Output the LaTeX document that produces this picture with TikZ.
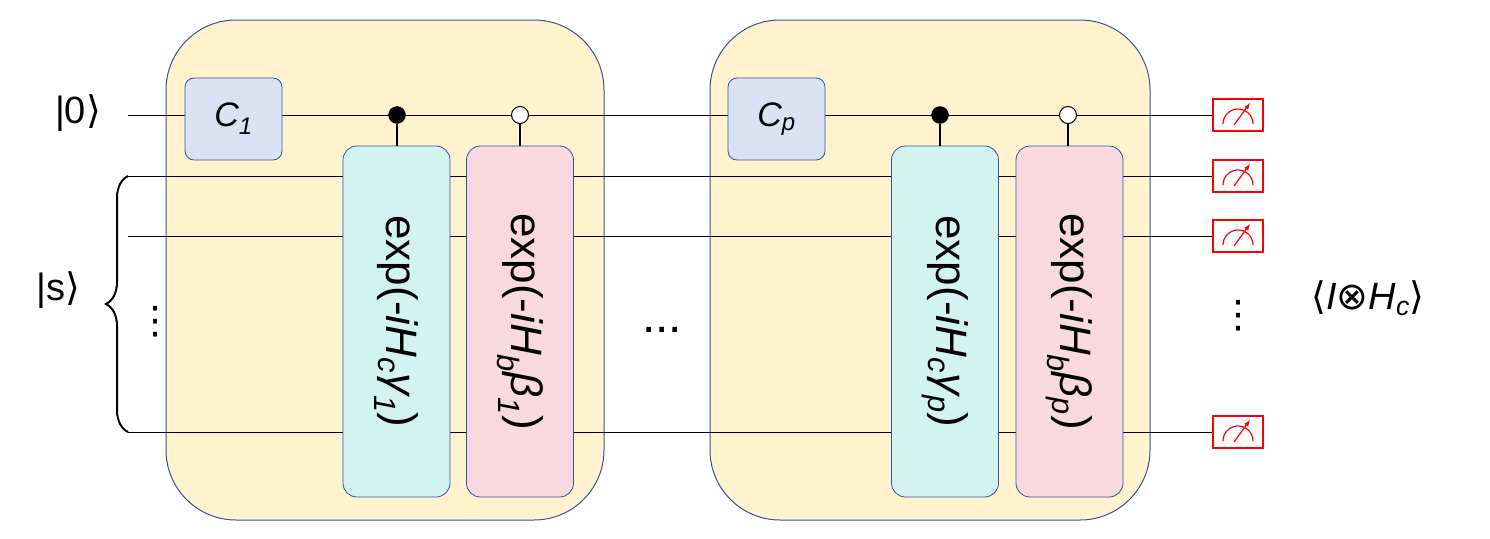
\documentclass[tikz,border=0pt]{standalone}
\usepackage{fontspec}
\setmainfont{Liberation Sans}
\newfontfamily\dejavu{DejaVu Sans}
\usetikzlibrary{decorations.pathreplacing}
\definecolor{bg}{HTML}{FFF2CC}
\definecolor{bd}{HTML}{2F55A0}
\definecolor{cb}{HTML}{DAE3F3}
\definecolor{cy}{HTML}{D3F3F0}
\definecolor{pk}{HTML}{F8D9DF}
\tikzset{
 layer/.style={draw=bd,fill=bg,rounded corners=70pt,line width=1pt},
 cgate/.style={draw=bd,fill=cb,rounded corners=9pt,line width=0.8pt,minimum width=97pt,minimum height=82pt,font=\fontsize{34}{34}\selectfont\itshape},
 ugate/.style={draw=bd,rounded corners=14pt,line width=0.8pt,minimum width=107pt,minimum height=351pt},
 gtext/.style={rotate=-90,font=\fontsize{44}{44}\selectfont},
 wire/.style={line width=1pt},
 lbl/.style={font=\fontsize{38}{38}\selectfont},
}
\newcommand{\meter}[2]{%
 \draw[red,line width=1.2pt,fill=white] (#1-25,#2-16) rectangle (#1+25,#2+16);
 \draw[red,line width=1.2pt] (#1-15,#2+9) arc[start angle=180,end angle=360,radius=15];
 \draw[red,line width=1.2pt,-latex] (#1-4,#2+10) -- (#1+12,#2-12);}
\begin{document}
\begin{tikzpicture}[x=1pt,y=-1pt]
\useasboundingbox (0,0) rectangle (1490,538);
\draw[layer] (166,20) rectangle (604,520);
\draw[layer] (710,20) rectangle (1150,520);
\coordinate (w0a) at (128,115); \coordinate (w0b) at (1213,115);
\coordinate (w1a) at (128,176); \coordinate (w1b) at (1213,176);
\coordinate (w2a) at (128,236); \coordinate (w2b) at (1213,236);
\coordinate (w3a) at (128,432); \coordinate (w3b) at (1213,432);
\foreach \i in {0,1,2,3} \draw[wire] (w\i a) -- (w\i b);
\node[cgate] (c1) at (233.5,119) {C\textsubscript{\fontsize{24}{24}\selectfont 1}};
\node[cgate] (cp) at (776.5,119) {C\textsubscript{\fontsize{24}{24}\selectfont p}};
\node[ugate,fill=cy] (u1) at (396.5,321.5) {};
\node[ugate,fill=pk] (v1) at (520,321.5) {};
\node[ugate,fill=cy] (u2) at (945,321.5) {};
\node[ugate,fill=pk] (v2) at (1069.5,321.5) {};
\node[gtext] at (u1) {exp(-\textit{iH\textsubscript{c}γ\textsubscript{1}})};
\node[gtext] at (v1) {exp(-\textit{iH\textsubscript{b}β\textsubscript{1}})};
\node[gtext] at (u2) {exp(-\textit{iH\textsubscript{c}γ\textsubscript{p}})};
\node[gtext] at (v2) {exp(-\textit{iH\textsubscript{b}β\textsubscript{p}})};
\foreach \g/\x in {u1/397,u2/940}{
 \node[circle,fill=black,draw=black,inner sep=0,minimum size=17pt] (d\g) at (\x,115) {};
 \draw[line width=2.5pt] (d\g) -- (\g.north -| d\g);}
\foreach \g/\x in {v1/520,v2/1068}{
 \node[circle,fill=white,draw=black,line width=1pt,inner sep=0,minimum size=17pt] (d\g) at (\x,115) {};
 \draw[line width=2.5pt] (d\g) -- (\g.north -| d\g);}
\meter{1238}{115}\meter{1238}{176}\meter{1238}{236}\meter{1238}{432}
\node[lbl] (k0) at (78,113) {|0{\dejavu ⟩}};
\node[lbl] (ks) at (58,290) {|s{\dejavu ⟩}};
\draw[line width=2pt,decoration={brace,amplitude=22pt},decorate] (128,432) -- (128,176);
\node[lbl] at (155,322) {\dejavu ⋮};
\node[lbl] at (1238,316) {\dejavu ⋮};
\node[font=\fontsize{48}{48}\selectfont] at (662,330) {...};
\node[lbl] at (1368,298) {{\dejavu ⟨}\textit{I}{\dejavu ⊗}\textit{H\textsubscript{c}}{\dejavu ⟩}};
\end{tikzpicture}
\end{document}
